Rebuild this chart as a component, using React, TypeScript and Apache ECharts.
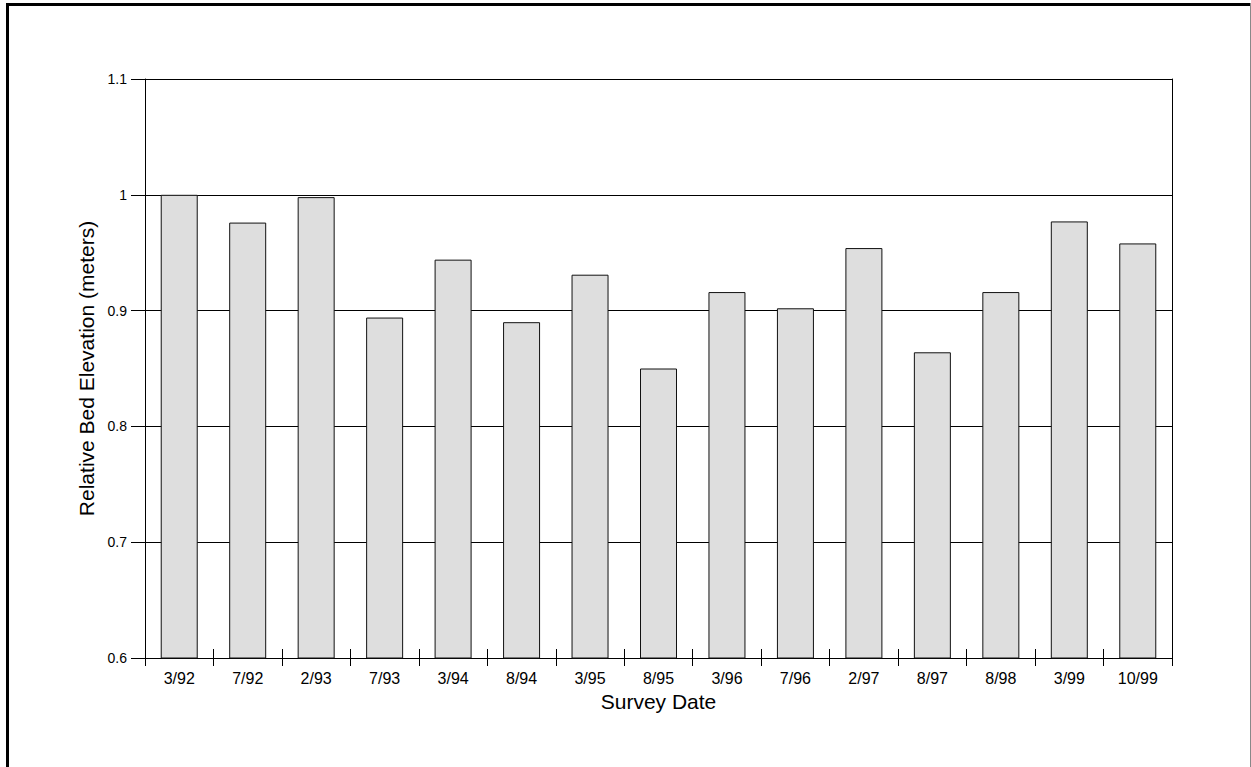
import { useEffect, useRef } from "react";
import * as echarts from "echarts";

// Survey dates (category axis) and measured relative bed elevation in meters
const surveyDates = [
  "3/92", "7/92", "2/93", "7/93", "3/94", "8/94", "3/95", "8/95",
  "3/96", "7/96", "2/97", "8/97", "8/98", "3/99", "10/99",
];
const bedElevation = [
  1.0, 0.976, 0.998, 0.894, 0.944, 0.89, 0.931, 0.85,
  0.916, 0.902, 0.954, 0.864, 0.916, 0.977, 0.958,
];
const elevationMin = 0.6;
const elevationMax = 1.1;
const elevationStep = 0.1;

const FONT = "'Liberation Sans', Arial, Helvetica, sans-serif";

export default function App() {
  const ref = useRef<HTMLDivElement>(null);

  useEffect(() => {
    if (!ref.current) return;
    const chart = echarts.init(ref.current, undefined, { renderer: "svg" });
    chart.setOption({
      animation: false,
      backgroundColor: "#ffffff",
      textStyle: { fontFamily: FONT, color: "#000" },
      grid: { left: 145, right: 79, top: 79, bottom: 109, containLabel: false },
      xAxis: [
        {
          type: "category",
          position: "bottom",
          data: surveyDates,
          boundaryGap: true,
          name: "Survey Date",
          nameLocation: "middle",
          nameGap: 26,
          nameTextStyle: { fontFamily: FONT, fontSize: 21, color: "#000" },
          axisLine: { show: true, lineStyle: { color: "#000", width: 1 } },
          axisTick: { show: true, inside: false, length: 8, lineStyle: { color: "#000", width: 1 } },
          axisLabel: { fontFamily: FONT, fontSize: 16, color: "#000", margin: 12, interval: 0 },
          splitLine: { show: false },
        },
        {
          // inner half of the crossing tick marks
          type: "category",
          position: "bottom",
          data: surveyDates,
          boundaryGap: true,
          axisLine: { show: false },
          axisTick: { show: true, inside: true, length: 9, lineStyle: { color: "#000", width: 1 } },
          axisLabel: { show: false },
          splitLine: { show: false },
        },
      ],
      yAxis: [
        {
          type: "value",
          position: "left",
          min: elevationMin,
          max: elevationMax,
          interval: elevationStep,
          name: "Relative Bed Elevation (meters)",
          nameLocation: "middle",
          nameGap: 48,
          nameTextStyle: { fontFamily: FONT, fontSize: 21, color: "#000" },
          axisLine: { show: true, lineStyle: { color: "#000", width: 1 } },
          axisTick: { show: true, inside: false, length: 14, lineStyle: { color: "#000", width: 1 } },
          axisLabel: { fontFamily: FONT, fontSize: 14, color: "#000", margin: 18 },
          splitLine: { show: true, lineStyle: { color: "#000", width: 1 } },
        },
        {
          // right-hand frame of the plot area
          type: "value",
          position: "right",
          min: elevationMin,
          max: elevationMax,
          interval: elevationStep,
          axisLine: { show: true, lineStyle: { color: "#000", width: 1 } },
          axisTick: { show: false },
          axisLabel: { show: false },
          splitLine: { show: false },
        },
      ],
      series: [
        {
          type: "bar",
          xAxisIndex: 0,
          yAxisIndex: 0,
          data: bedElevation,
          barWidth: 37,
          itemStyle: { color: "#dedede", borderColor: "#111", borderWidth: 1 },
          emphasis: { disabled: true },
        },
      ],
      graphic: [
        {
          type: "line",
          shape: { x1: 6, y1: 4.5, x2: 1251, y2: 4.5 },
          style: { stroke: "#000", lineWidth: 3 },
          silent: true,
        },
        {
          type: "line",
          shape: { x1: 7.5, y1: 3, x2: 7.5, y2: 767 },
          style: { stroke: "#000", lineWidth: 3 },
          silent: true,
        },
        {
          type: "line",
          shape: { x1: 1250.5, y1: 3, x2: 1250.5, y2: 767 },
          style: { stroke: "#888", lineWidth: 1 },
          silent: true,
        },
      ],
    });
    return () => chart.dispose();
  }, []);

  return (
    <div
      ref={ref}
      style={{ position: "absolute", left: 0, top: 0, width: 1251, height: 767 }}
    />
  );
}
